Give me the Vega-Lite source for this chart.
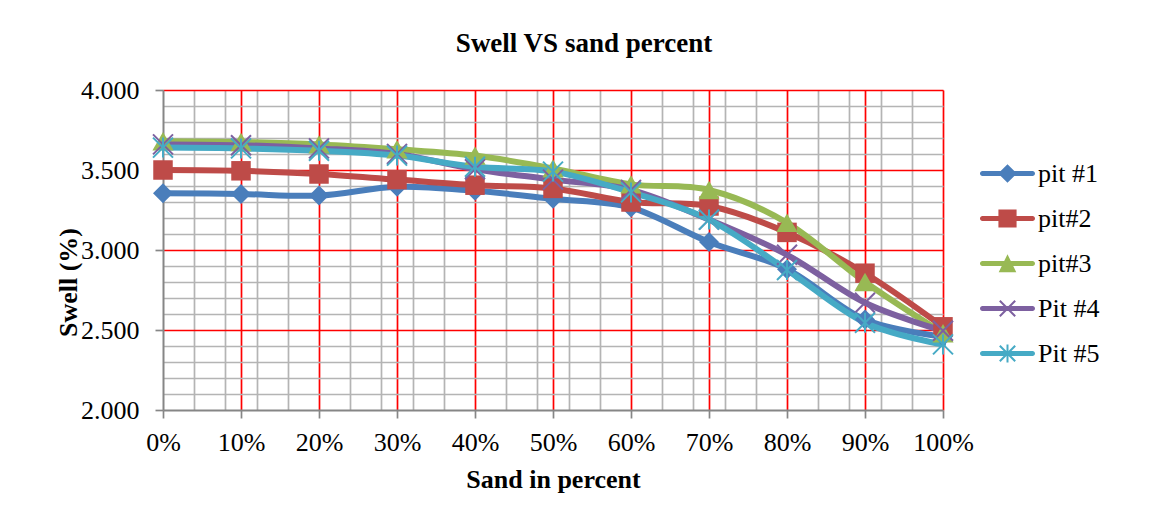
{
  "$schema": "https://vega.github.io/schema/vega-lite/v6.json",
  "width": 780,
  "height": 320,
  "autosize": {"type": "none"},
  "padding": {"left": 163, "top": 90, "right": 212, "bottom": 114},
  "background": "white",
  "title": {
    "text": "Swell VS sand percent",
    "font": "Liberation Serif",
    "fontSize": 27,
    "fontWeight": "bold",
    "color": "black",
    "anchor": "middle",
    "dx": 31,
    "baseline": "alphabetic",
    "offset": -2
  },
  "data": {
    "values": [
      {"series": "pit #1", "sand": 0, "swell": 3.355},
      {"series": "pit #1", "sand": 10, "swell": 3.35},
      {"series": "pit #1", "sand": 20, "swell": 3.34},
      {"series": "pit #1", "sand": 30, "swell": 3.395},
      {"series": "pit #1", "sand": 40, "swell": 3.37},
      {"series": "pit #1", "sand": 50, "swell": 3.32},
      {"series": "pit #1", "sand": 60, "swell": 3.265},
      {"series": "pit #1", "sand": 70, "swell": 3.05},
      {"series": "pit #1", "sand": 80, "swell": 2.88},
      {"series": "pit #1", "sand": 90, "swell": 2.565},
      {"series": "pit #1", "sand": 100, "swell": 2.46},
      {"series": "pit#2", "sand": 0, "swell": 3.5},
      {"series": "pit#2", "sand": 10, "swell": 3.495},
      {"series": "pit#2", "sand": 20, "swell": 3.475},
      {"series": "pit#2", "sand": 30, "swell": 3.44},
      {"series": "pit#2", "sand": 40, "swell": 3.405},
      {"series": "pit#2", "sand": 50, "swell": 3.385},
      {"series": "pit#2", "sand": 60, "swell": 3.3},
      {"series": "pit#2", "sand": 70, "swell": 3.275},
      {"series": "pit#2", "sand": 80, "swell": 3.11},
      {"series": "pit#2", "sand": 90, "swell": 2.855},
      {"series": "pit#2", "sand": 100, "swell": 2.52},
      {"series": "pit#3", "sand": 0, "swell": 3.68},
      {"series": "pit#3", "sand": 10, "swell": 3.675},
      {"series": "pit#3", "sand": 20, "swell": 3.66},
      {"series": "pit#3", "sand": 30, "swell": 3.63},
      {"series": "pit#3", "sand": 40, "swell": 3.59},
      {"series": "pit#3", "sand": 50, "swell": 3.51},
      {"series": "pit#3", "sand": 60, "swell": 3.41},
      {"series": "pit#3", "sand": 70, "swell": 3.375},
      {"series": "pit#3", "sand": 80, "swell": 3.17},
      {"series": "pit#3", "sand": 90, "swell": 2.8},
      {"series": "pit#3", "sand": 100, "swell": 2.48},
      {"series": "Pit #4", "sand": 0, "swell": 3.66},
      {"series": "Pit #4", "sand": 10, "swell": 3.655},
      {"series": "Pit #4", "sand": 20, "swell": 3.635},
      {"series": "Pit #4", "sand": 30, "swell": 3.6},
      {"series": "Pit #4", "sand": 40, "swell": 3.505},
      {"series": "Pit #4", "sand": 50, "swell": 3.44},
      {"series": "Pit #4", "sand": 60, "swell": 3.375},
      {"series": "Pit #4", "sand": 70, "swell": 3.19},
      {"series": "Pit #4", "sand": 80, "swell": 2.97},
      {"series": "Pit #4", "sand": 90, "swell": 2.67},
      {"series": "Pit #4", "sand": 100, "swell": 2.495},
      {"series": "Pit #5", "sand": 0, "swell": 3.64},
      {"series": "Pit #5", "sand": 10, "swell": 3.635},
      {"series": "Pit #5", "sand": 20, "swell": 3.62},
      {"series": "Pit #5", "sand": 30, "swell": 3.59},
      {"series": "Pit #5", "sand": 40, "swell": 3.52},
      {"series": "Pit #5", "sand": 50, "swell": 3.49},
      {"series": "Pit #5", "sand": 60, "swell": 3.36},
      {"series": "Pit #5", "sand": 70, "swell": 3.19},
      {"series": "Pit #5", "sand": 80, "swell": 2.875},
      {"series": "Pit #5", "sand": 90, "swell": 2.545},
      {"series": "Pit #5", "sand": 100, "swell": 2.41}
    ]
  },
  "encoding": {
    "x": {
      "field": "sand",
      "type": "quantitative",
      "title": "Sand in percent",
      "scale": {"domain": [0, 100], "nice": false, "zero": false},
      "axis": {
        "values": [4, 8, 12, 16, 24, 28, 32, 36, 44, 48, 52, 56, 64, 68, 72, 76, 84, 88, 92, 96, 0, 10, 20, 30, 40, 50, 60, 70, 80, 90, 100],
        "labelExpr": "datum.value % 10 === 0 ? datum.value + '%' : ''",
        "grid": true,
        "gridColor": {"condition": {"test": "datum.value % 10 === 0", "value": "#FF0000"}, "value": "#B4B4B4"},
        "gridOpacity": {"condition": {"test": "datum.value < 0.5", "value": 0}, "value": 1},
        "gridWidth": 1.7,
        "tickColor": "#868686",
        "tickSize": 8,
        "tickWidth": 1.7,
        "tickOpacity": {"condition": {"test": "datum.value % 10 === 0", "value": 1}, "value": 0},
        "domainColor": "#868686",
        "domainWidth": 2,
        "labelFont": "Liberation Serif",
        "labelFontSize": 26,
        "labelColor": "black",
        "labelPadding": 11,
        "labelOverlap": false,
        "labelFlush": false,
        "titleFont": "Liberation Serif",
        "titleFontSize": 26,
        "titleFontWeight": "bold",
        "titleColor": "black",
        "titleBaseline": "alphabetic",
        "titlePadding": 32
      }
    },
    "y": {
      "field": "swell",
      "type": "quantitative",
      "title": "Swell (%)",
      "scale": {"domain": [2, 4], "nice": false, "zero": false},
      "axis": {
        "values": [2.1, 2.2, 2.3, 2.4, 2.6, 2.7, 2.8, 2.9, 3.1, 3.2, 3.3, 3.4, 3.6, 3.7, 3.8, 3.9, 2, 2.5, 3, 3.5, 4],
        "labelExpr": "abs(datum.value * 2 - round(datum.value * 2)) < 0.001 ? format(datum.value, '.3f') : ''",
        "grid": true,
        "gridColor": {"condition": {"test": "abs(datum.value * 2 - round(datum.value * 2)) < 0.001", "value": "#FF0000"}, "value": "#B4B4B4"},
        "gridOpacity": {"condition": {"test": "datum.value < 2.05", "value": 0}, "value": 1},
        "gridWidth": 1.7,
        "tickColor": "#868686",
        "tickSize": 8,
        "tickWidth": 1.7,
        "tickOpacity": {"condition": {"test": "abs(datum.value * 2 - round(datum.value * 2)) < 0.001", "value": 1}, "value": 0},
        "domainColor": "#868686",
        "domainWidth": 2,
        "labelFont": "Liberation Serif",
        "labelFontSize": 26,
        "labelColor": "black",
        "labelPadding": 16,
        "labelOverlap": false,
        "labelFlush": false,
        "titleFont": "Liberation Serif",
        "titleFontSize": 26,
        "titleFontWeight": "bold",
        "titleColor": "black",
        "titleBaseline": "alphabetic",
        "titleAngle": 270,
        "titleAlign": "center",
        "titleY": 192,
        "titlePadding": 4
      }
    },
    "color": {
      "field": "series",
      "type": "nominal",
      "scale": {
        "domain": ["pit #1", "pit#2", "pit#3", "Pit #4", "Pit #5"],
        "range": ["#4A7EBB", "#BE4B48", "#98B954", "#7D60A0", "#46AAC5"]
      },
      "legend": {
        "orient": "none",
        "legendX": 817,
        "legendY": 56,
        "title": null,
        "padding": 0,
        "symbolSize": 3025,
        "labelFont": "Liberation Serif",
        "labelFontSize": 26,
        "labelColor": "black",
        "labelOffset": 3,
        "rowPadding": 4,
        "encode": {
          "symbols": {
            "update": {
              "shape": {"signal": "datum.value === 'pit #1' ? 'M-0.91,-0.09H0.91A0.09,0.09 0 0 1 0.91,0.09H-0.91A0.09,0.09 0 0 1 -0.91,-0.09Z M0,-0.34L0.34,0L0,0.34L-0.34,0Z' : datum.value === 'pit#2' ? 'M-0.91,-0.09H0.91A0.09,0.09 0 0 1 0.91,0.09H-0.91A0.09,0.09 0 0 1 -0.91,-0.09Z M-0.33,-0.33H0.33V0.33H-0.33Z' : datum.value === 'pit#3' ? 'M-0.91,-0.09H0.91A0.09,0.09 0 0 1 0.91,0.09H-0.91A0.09,0.09 0 0 1 -0.91,-0.09Z M0,-0.34L0.32,0.32L-0.32,0.32Z' : datum.value === 'Pit #4' ? 'M-0.91,-0.09H0.91A0.09,0.09 0 0 1 0.91,0.09H-0.91A0.09,0.09 0 0 1 -0.91,-0.09Z M-0.254,-0.306L0.306,0.254L0.254,0.306L-0.306,-0.254Z M-0.254,0.306L-0.306,0.254L0.254,-0.306L0.306,-0.254Z' : 'M-0.91,-0.09H0.91A0.09,0.09 0 0 1 0.91,0.09H-0.91A0.09,0.09 0 0 1 -0.91,-0.09Z M-0.254,-0.306L0.306,0.254L0.254,0.306L-0.306,-0.254Z M-0.254,0.306L-0.306,0.254L0.254,-0.306L0.306,-0.254Z M-0.036,-0.33H0.036V0.33H-0.036Z'"},
              "fill": {"scale": "color", "field": "value"},
              "stroke": {"value": "transparent"},
              "strokeWidth": {"value": 0},
              "size": {"value": 3025},
              "opacity": {"value": 1}
            }
          }
        }
      }
    }
  },
  "layer": [
    {
      "mark": {"type": "line", "interpolate": "cardinal", "strokeWidth": 6, "strokeCap": "round", "strokeJoin": "round"}
    },
    {
      "transform": [{"filter": "datum.series === 'pit #1'"}],
      "mark": {"type": "point", "filled": true, "opacity": 1, "size": 400, "shape": "diamond"}
    },
    {
      "transform": [{"filter": "datum.series === 'pit#2'"}],
      "mark": {"type": "point", "filled": true, "opacity": 1, "size": 380, "shape": "square"}
    },
    {
      "transform": [{"filter": "datum.series === 'pit#3'"}],
      "mark": {"type": "point", "filled": true, "opacity": 1, "size": 450, "shape": "triangle-up"}
    },
    {
      "transform": [{"filter": "datum.series === 'Pit #4'"}],
      "mark": {"type": "point", "filled": false, "opacity": 1, "size": 400, "strokeWidth": 2, "shape": "M-1,-1L1,1M-1,1L1,-1"}
    },
    {
      "transform": [{"filter": "datum.series === 'Pit #5'"}],
      "mark": {"type": "point", "filled": false, "opacity": 1, "size": 400, "strokeWidth": 2, "shape": "M-1,-1L1,1M-1,1L1,-1M0,-1L0,1"}
    }
  ]
}
